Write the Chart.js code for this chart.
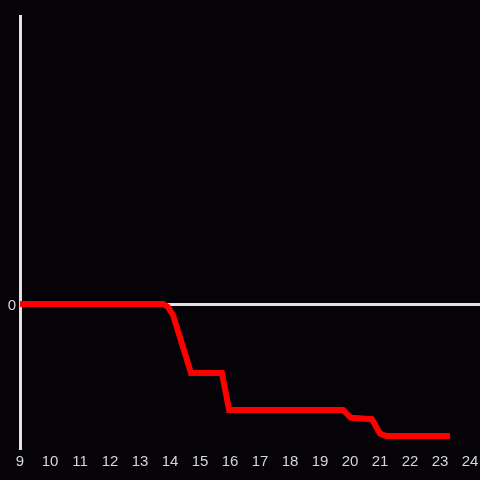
<!DOCTYPE html>
<html>
<head>
<meta charset="utf-8">
<title>chart</title>
<script src="https://cdn.jsdelivr.net/npm/chart.js@4/dist/chart.umd.min.js"></script>
<style>
  html, body { margin: 0; padding: 0; background: #050307; }
  #wrap { width: 480px; height: 480px; position: relative; }
</style>
</head>
<body>
<div id="wrap"><canvas id="c"></canvas></div>
<script>
// hours on the x axis and the values of the red line
const hours  = [9, 13.77, 13.93, 14.1, 14.7, 15.73, 15.97, 19.77, 20.03, 20.73, 21.0, 21.2, 23.33];
const values = [0, 0, -0.02, -0.076, -0.479, -0.479, -0.736, -0.736, -0.79, -0.8, -0.9, -0.917, -0.917];
const xTicks = [9, 10, 11, 12, 13, 14, 15, 16, 17, 18, 19, 20, 21, 22, 23, 24];
const yTicks = [0];

const axisColor = '#e2e2e2';
const textColor = '#d6d6d6';

const bgPlugin = {
  id: 'bg',
  beforeDraw(chart) {
    const c = chart.ctx;
    c.save();
    c.fillStyle = '#050307';
    c.fillRect(0, 0, chart.width, chart.height);
    c.restore();
  }
};

const points = hours.map((h, i) => ({ x: h, y: values[i] }));

new Chart(document.getElementById('c'), {
  type: 'line',
  data: {
    datasets: [{
      data: points,
      borderColor: '#ff0000',
      borderWidth: 6,
      pointRadius: 0,
      tension: 0,
      fill: false
    }]
  },
  options: {
    responsive: true,
    maintainAspectRatio: false,
    animation: false,
    layout: { padding: { top: 16, right: 0, left: 0, bottom: 0 } },
    plugins: { legend: { display: false }, tooltip: { enabled: false } },
    scales: {
      x: {
        type: 'linear',
        min: 9,
        max: 24.333,
        afterBuildTicks: s => { s.ticks = xTicks.map(v => ({ value: v })); },
        afterFit: s => { s.height = 32; s.paddingLeft = 0; s.paddingRight = 0; },
        grid: { display: false, drawTicks: false },
        border: { display: false },
        ticks: {
          color: textColor,
          padding: 5,
          maxRotation: 0,
          autoSkip: false,
          font: { family: 'Liberation Sans', size: 15 }
        }
      },
      y: {
        min: -1,
        max: 2,
        afterBuildTicks: s => { s.ticks = yTicks.map(v => ({ value: v })); },
        afterFit: s => { s.width = 20; s.paddingTop = 0; s.paddingBottom = 0; },
        grid: {
          drawTicks: false,
          color: axisColor,
          lineWidth: 3
        },
        border: { display: true, color: axisColor, width: 3 },
        ticks: {
          color: textColor,
          padding: 4,
          labelOffset: 2,
          font: { family: 'Liberation Sans', size: 15 }
        }
      }
    }
  },
  plugins: [bgPlugin]
});
</script>
</body>
</html>
